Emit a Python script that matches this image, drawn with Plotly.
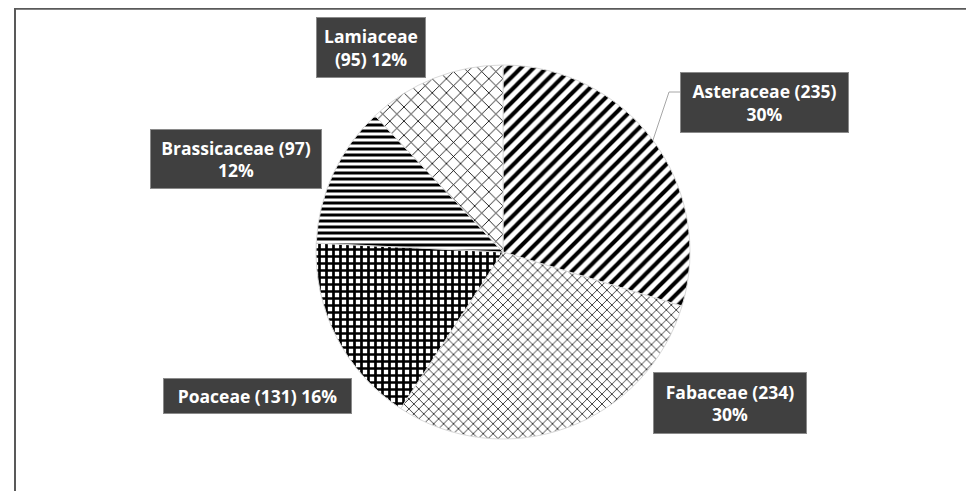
import plotly.graph_objects as go

families = ["Asteraceae", "Fabaceae", "Poaceae", "Brassicaceae", "Lamiaceae"]
counts = [235, 234, 131, 97, 95]
label_texts = [
    "Asteraceae (235)<br>30%",
    "Fabaceae (234)<br>30%",
    "Poaceae (131) 16%",
    "Brassicaceae (97)<br>12%",
    "Lamiaceae<br>(95) 12%",
]

W, H = 974, 491
shapes_pat = ["/", "x", "+", "-", "x"]
sizes = [9, 7, 7, 6, 10]
solid = [0.45, 0.22, 0.62, 0.5, 0.16]
fg = ["#000000", "#1a1a1a", "#000000", "#000000", "#000000"]

fig = go.Figure()
fig.add_trace(go.Pie(
    labels=families, values=counts, sort=False, direction="clockwise", rotation=0,
    textinfo="none", hoverinfo="label+value+percent", showlegend=False,
    marker=dict(
        colors=["white"] * 5,
        line=dict(color="#d9d9d9", width=1),
        pattern=dict(shape=shapes_pat, size=sizes, solidity=solid,
                     fgcolor=fg, bgcolor=["white"] * 5, fgopacity=1, fillmode="replace"),
    ),
    domain=dict(x=[(495 - 187) / W, (495 + 187) / W], y=[1 - (244 + 187) / H, 1 - (244 - 187) / H]),
))

# label boxes: (center x, center y, width, height) in pixels
boxes = [
    (756, 95, 169, 61),
    (722, 395, 154, 62),
    (250, 388, 189, 36),
    (228, 151, 172, 60),
    (363, 40, 110, 61),
]
annotations = []
for txt, (cx, cy, bw, bh) in zip(label_texts, boxes):
    annotations.append(dict(
        x=cx / W, y=1 - cy / H, xref="paper", yref="paper", xanchor="center", yanchor="middle",
        text=f"<b>{txt}</b>", showarrow=False, align="center",
        font=dict(family="Open Sans", size=17.5, color="white"),
        bgcolor="#404040", bordercolor="#8a8a8a", borderwidth=1, borderpad=0,
        width=bw - 2, height=bh - 2,
    ))

shapes = [
    dict(type="rect", xref="paper", yref="paper", x0=7 / W, x1=1.02, y0=1 - 488 / H, y1=1 - 0.8 / H,
         line=dict(color="#595959", width=2), fillcolor="rgba(0,0,0,0)"),
    dict(type="path", xref="paper", yref="paper",
         path=f"M {672 / W},{1 - 84 / H} L {661 / W},{1 - 84 / H} L {645 / W},{1 - 132 / H}",
         line=dict(color="#a6a6a6", width=1)),
]

fig.update_layout(
    width=W, height=H, margin=dict(l=0, r=0, t=0, b=0),
    paper_bgcolor="white", plot_bgcolor="white",
    annotations=annotations, shapes=shapes,
)
fig.write_html("out.html")
